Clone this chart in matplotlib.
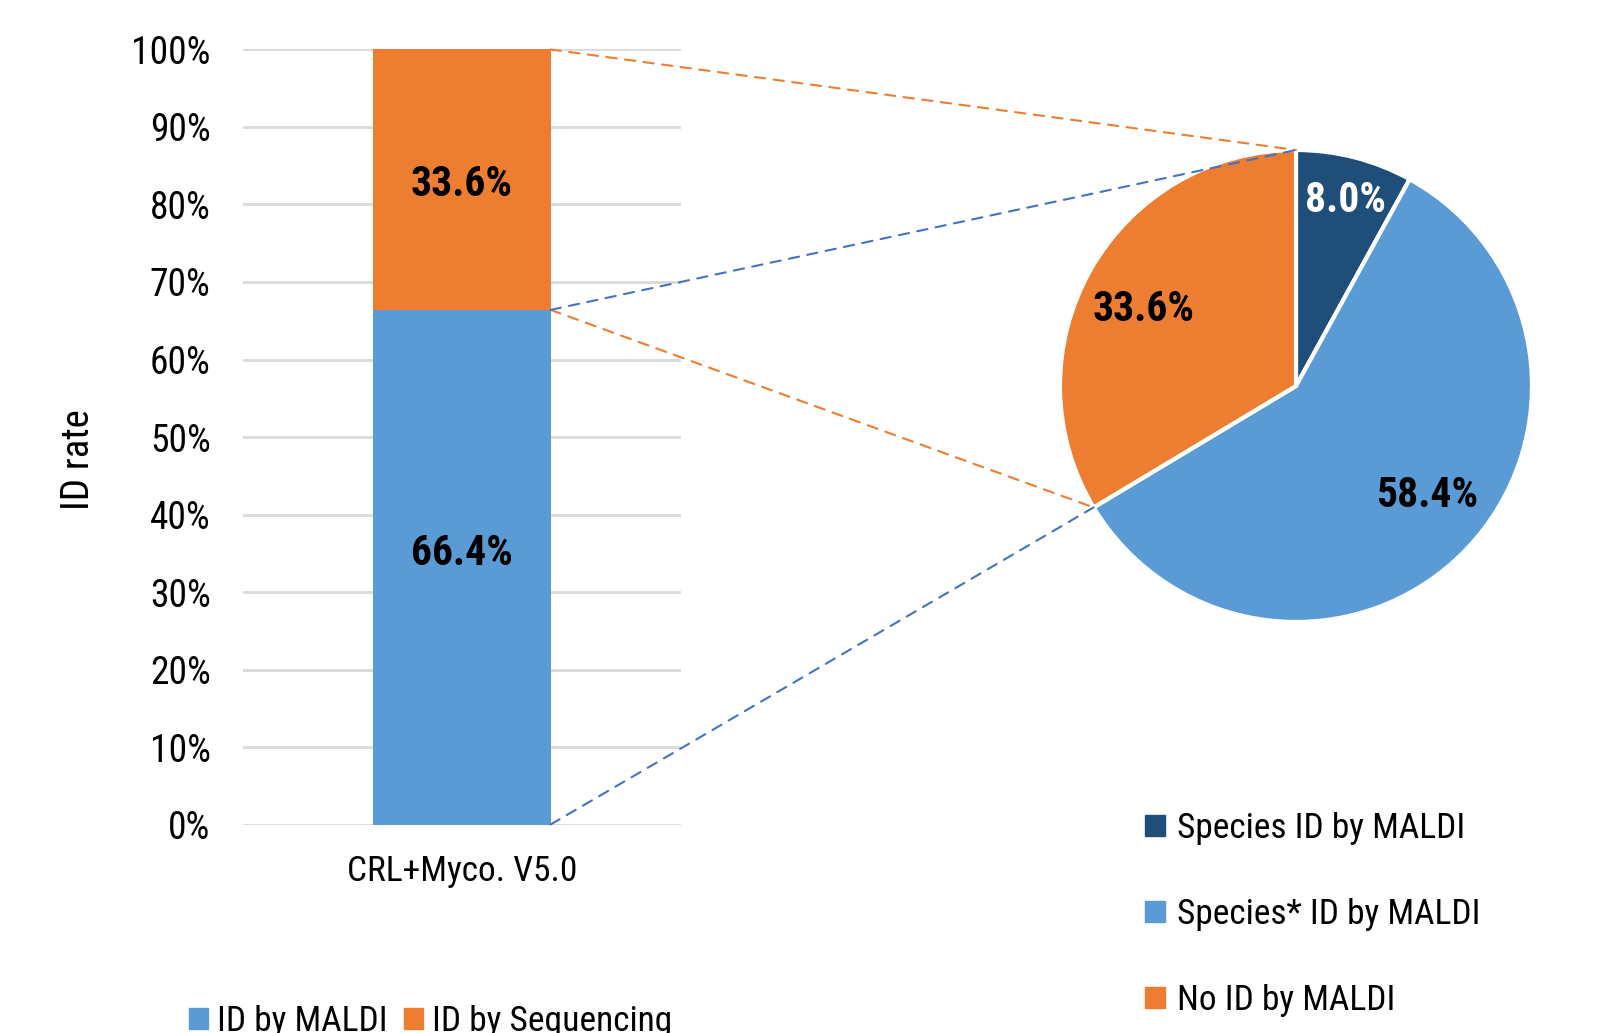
import numpy as np
import matplotlib
matplotlib.use("Agg")
import matplotlib.pyplot as plt
from matplotlib.patches import Patch, ConnectionPatch

plt.rcParams['font.family'] = ['Roboto Condensed', 'Liberation Sans', 'DejaVu Sans']

# data
bar_category = "CRL+Myco. V5.0"
bar_labels = ["ID by MALDI", "ID by Sequencing"]
bar_values = [66.4, 33.6]
pie_labels = ["Species ID by MALDI", "Species* ID by MALDI", "No ID by MALDI"]
pie_values = [8.0, 58.4, 33.6]
y_ticks = [0, 10, 20, 30, 40, 50, 60, 70, 80, 90, 100]

c_orange = "#ED7D31"
c_light = "#5B9BD5"
c_dark = "#1F4E79"
c_line_blue = "#4472C4"

fig = plt.figure(figsize=(16.18, 10.33), dpi=100)

# stacked bar
ax = fig.add_axes([0.1499, 0.2018, 0.2710, 0.7503])
bottom = 0
bar_colors = [c_light, c_orange]
for lab, val, col in zip(bar_labels, bar_values, bar_colors):
    ax.bar(0, val, width=1.0, bottom=bottom, color=col, label=lab, zorder=2)
    bottom += val
ax.set_xlim(-1.235, 1.235)
ax.set_ylim(0, 100)
ax.set_yticks(y_ticks)
ax.set_yticklabels([f"{t}%" for t in y_ticks], fontsize=27)
ax.set_xticks([0])
ax.set_xticklabels([bar_category], fontsize=25.5)
ax.tick_params(axis='y', length=0, pad=23)
ax.tick_params(axis='x', length=0, pad=22)
ax.yaxis.grid(True, color="#D9D9D9", lw=2, zorder=0)
for s in ax.spines.values():
    s.set_visible(False)
ax.set_ylabel("ID rate", fontsize=28)
ax.yaxis.set_label_coords(-0.333, 0.471)
ax.text(0, 82.6, f"{bar_values[1]}%", ha='center', va='center', fontsize=30, fontweight='bold')
ax.text(0, 35.0, f"{bar_values[0]}%", ha='center', va='center', fontsize=30, fontweight='bold')

# pie
r_px = 236
cx, cy = 1296, 386
pax = fig.add_axes([(cx - r_px) / 1618, 1 - (cy + r_px) / 1033, 2 * r_px / 1618, 2 * r_px / 1033])
wedges, _ = pax.pie(pie_values, colors=[c_dark, c_light, c_orange], startangle=90, counterclock=False,
                    wedgeprops=dict(edgecolor='white', linewidth=3))
pax.set_xlim(-1, 1)
pax.set_ylim(-1, 1)
pax.set_aspect('equal')
pax.text(0.21, 0.785, f"{pie_values[0]}%", ha='center', va='center', fontsize=30, fontweight='bold', color='white')
pax.text(0.555, -0.466, f"{pie_values[1]}%", ha='center', va='center', fontsize=30, fontweight='bold')
pax.text(-0.645, 0.326, f"{pie_values[2]}%", ha='center', va='center', fontsize=30, fontweight='bold')

# connector lines
ang = np.deg2rad(90 - 360 * (pie_values[0] + pie_values[1]) / 100)
p_bound = (np.cos(ang), np.sin(ang))
p_top = (0, 1)
x_edge = 0.5
for ya, pb, col in [(100, p_top, c_orange), (bar_values[0], p_bound, c_orange),
                    (bar_values[0], p_top, c_line_blue), (0, p_bound, c_line_blue)]:
    con = ConnectionPatch(xyA=(x_edge, ya), coordsA=ax.transData, xyB=pb, coordsB=pax.transData,
                          color=col, lw=1.5, ls=(0, (5, 4)), zorder=5)
    fig.add_artist(con)

# legends
h_bar = [Patch(color=c) for c in bar_colors]
fig.legend(h_bar, bar_labels, loc='center left', bbox_to_anchor=(0.097, 0.011), ncol=2, frameon=False,
           fontsize=25.5, handlelength=0.55, handleheight=0.55, handletextpad=0.25, columnspacing=0.45)
h_pie = [Patch(color=c) for c in [c_dark, c_light, c_orange]]
fig.legend(h_pie, pie_labels, loc='upper left', bbox_to_anchor=(0.688, 0.245), frameon=False,
           fontsize=25.5, handlelength=0.55, handleheight=0.55, handletextpad=0.35, labelspacing=1.5)

fig.savefig("out.png", dpi=100)
